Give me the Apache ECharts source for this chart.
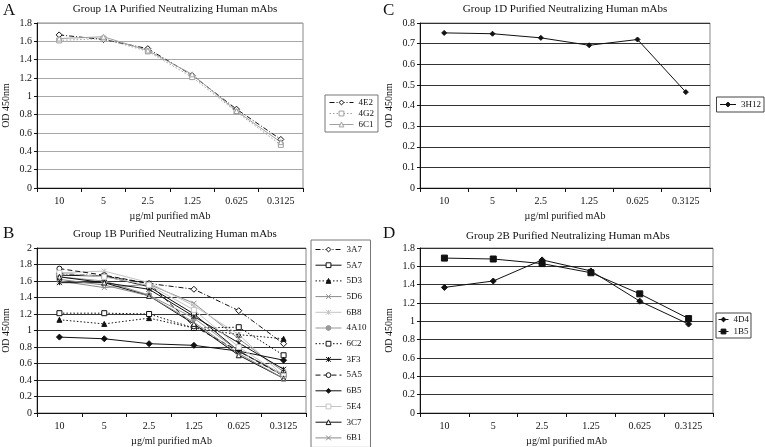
<!DOCTYPE html>
<html>
<head>
<meta charset="utf-8">
<script src="https://cdn.jsdelivr.net/npm/echarts@6/dist/echarts.min.js"></script>
<style>
  html, body { margin: 0; padding: 0; background: #fff; }
  #chart { width: 765px; height: 447px; }
</style>
</head>
<body>
<div id="chart"></div>
<script>
// dilutions (ug/ml), same for every panel
var doses = ['10', '5', '2.5', '1.25', '0.625', '0.3125'];

// Panel A: Group 1A
var a4E2 = [1.67, 1.62, 1.52, 1.23, 0.86, 0.53];
var a4G2 = [1.61, 1.63, 1.49, 1.21, 0.83, 0.47];
var a6C1 = [1.63, 1.65, 1.50, 1.24, 0.84, 0.50];

// Panel B: Group 1B
var b3A7 = [1.69, 1.66, 1.57, 1.50, 1.24, 0.84];
var b5A7 = [1.67, 1.66, 1.53, 1.20, 0.75, 0.46];
var b5D3 = [1.13, 1.08, 1.15, 1.03, 0.95, 0.90];
var b5D6 = [1.60, 1.52, 1.56, 1.33, 0.90, 0.50];
var b6B8 = [1.70, 1.72, 1.58, 1.30, 0.95, 0.45];
var b4A10 = [1.65, 1.60, 1.43, 1.15, 0.75, 0.45];
var b6C2 = [1.21, 1.21, 1.20, 1.03, 1.04, 0.70];
var b3F3 = [1.58, 1.58, 1.50, 1.17, 0.85, 0.53];
var b5A5 = [1.75, 1.67, 1.57, 1.05, 0.75, 0.45];
var b6B5 = [0.92, 0.90, 0.84, 0.82, 0.75, 0.64];
var b5E4 = [1.70, 1.65, 1.55, 1.25, 0.80, 0.45];
var b3C7 = [1.65, 1.58, 1.42, 1.08, 0.70, 0.42];
var b6B1 = [1.62, 1.55, 1.42, 1.10, 0.72, 0.42];

// Panel C: Group 1D
var c3H12 = [0.752, 0.748, 0.728, 0.692, 0.72, 0.465];

// Panel D: Group 2B
var d4D4 = [1.37, 1.44, 1.67, 1.55, 1.22, 0.97];
var d1B5 = [1.69, 1.68, 1.63, 1.53, 1.30, 1.03];

var titles = [
  'Group 1A Purified Neutralizing Human mAbs',
  'Group 1B Purified Neutralizing Human mAbs',
  'Group 1D Purified Neutralizing Human mAbs',
  'Group 2B Purified Neutralizing Human mAbs'
];
var letters = ['A', 'B', 'C', 'D'];
var yMax = [1.8, 2, 0.8, 1.8];
var yStep = [0.2, 0.2, 0.1, 0.2];

var font = '"Liberation Serif", "DejaVu Serif", serif';
var black = '#111';
var gray = '#8a8a8a';
var light = '#c4c4c4';

var crossPath = 'path://M0,0L10,10M10,0L0,10';
var starPath = 'path://M0,0L10,10M10,0L0,10M5,0L5,10';

var grids = [
  { left: 33, top: 23, width: 270, height: 165 },
  { left: 33, top: 248, width: 273, height: 165 },
  { left: 420, top: 23, width: 290, height: 165 },
  { left: 420, top: 248, width: 293, height: 165 }
];
var gridLineColor = ['#a8a8a8', '#333', '#333', '#333'];

function line(name, data, gi, color, type, symbol, fill, size) {
  var strokeOnly = symbol === crossPath || symbol === starPath;
  return {
    name: name,
    type: 'line',
    xAxisIndex: gi,
    yAxisIndex: gi,
    data: data,
    symbol: symbol,
    symbolSize: size || 5,
    showSymbol: true,
    lineStyle: { color: color, width: 1, type: type },
    itemStyle: {
      color: strokeOnly ? 'rgba(0,0,0,0)' : (fill ? color : '#fff'),
      borderColor: color,
      borderWidth: 1
    },
    emphasis: { disabled: true }
  };
}

var dashDot = [5, 2, 1, 2];
var dotted = [1.5, 2];
var dashed = [5, 3];

var series = [
  line('4E2', a4E2, 0, black, dashDot, 'diamond', false, 6),
  line('4G2', a4G2, 0, '#a0a0a0', dotted, 'rect', false),
  line('6C1', a6C1, 0, '#a0a0a0', 'solid', 'triangle', false),

  line('3A7', b3A7, 1, black, dashDot, 'diamond', false, 6),
  line('5A7', b5A7, 1, black, 'solid', 'rect', false),
  line('5D3', b5D3, 1, black, dotted, 'triangle', true),
  line('5D6', b5D6, 1, gray, 'solid', crossPath, false),
  line('6B8', b6B8, 1, light, 'solid', starPath, false),
  line('4A10', b4A10, 1, '#999', 'solid', 'circle', true),
  line('6C2', b6C2, 1, black, dotted, 'rect', false),
  line('3F3', b3F3, 1, black, 'solid', starPath, false),
  line('5A5', b5A5, 1, black, dashed, 'circle', false),
  line('6B5', b6B5, 1, black, 'solid', 'diamond', true, 6),
  line('5E4', b5E4, 1, light, 'solid', 'rect', false),
  line('3C7', b3C7, 1, black, 'solid', 'triangle', false),
  line('6B1', b6B1, 1, gray, 'solid', crossPath, false),

  line('3H12', c3H12, 2, black, 'solid', 'diamond', true, 5),

  line('4D4', d4D4, 3, black, 'solid', 'diamond', true, 6),
  line('1B5', d1B5, 3, black, 'solid', 'rect', true, 6)
];

var xAxes = grids.map(function (g, i) {
  return {
    type: 'category',
    gridIndex: i,
    data: doses,
    boundaryGap: true,
    name: 'µg/ml purified mAb',
    nameLocation: 'middle',
    nameGap: 23,
    nameTextStyle: { fontFamily: font, fontSize: 10, color: black },
    axisLine: { lineStyle: { color: black, width: 1 } },
    axisTick: { show: true, length: 4, lineStyle: { color: black } },
    axisLabel: { fontFamily: font, fontSize: 10, color: black, margin: 8 },
    splitLine: { show: false }
  };
});

var yAxes = grids.map(function (g, i) {
  return {
    type: 'value',
    gridIndex: i,
    min: 0,
    max: yMax[i],
    interval: yStep[i],
    name: 'OD 450nm',
    nameLocation: 'middle',
    nameRotate: 90,
    nameGap: 26,
    nameTextStyle: { fontFamily: font, fontSize: 10, color: black },
    axisLine: { show: true, lineStyle: { color: black, width: 1 } },
    axisTick: { show: true, length: 3, lineStyle: { color: black } },
    axisLabel: { fontFamily: font, fontSize: 10, color: black, margin: 5 },
    splitLine: { show: true, lineStyle: { color: gridLineColor[i], width: 1 } }
  };
});

var legendBase = {
  orient: 'vertical',
  backgroundColor: '#fff',
  borderWidth: 1,
  borderColor: '#444',
  itemGap: 2,
  itemHeight: 6,
  selectedMode: false,
  lineStyle: { width: 1 },
  itemStyle: { borderWidth: 1 },
  textStyle: { fontFamily: font, fontSize: 9, lineHeight: 9, color: black }
};

function legend(extra) {
  var o = {};
  for (var k in legendBase) o[k] = legendBase[k];
  for (var k2 in extra) o[k2] = extra[k2];
  return o;
}

var legends = [
  legend({ data: ['4E2', '4G2', '6C1'], left: 325, top: 95, itemWidth: 24, itemGap: 2, padding: [3, 4, 3, 4], borderColor: '#777' }),
  legend({ data: ['3A7', '5A7', '5D3', '5D6', '6B8', '4A10', '6C2', '3F3', '5A5', '6B5', '5E4', '3C7', '6B1'],
           left: 311, top: 240, height: 200, itemWidth: 26, itemGap: 6.7, padding: [5, 4, 5, 4], borderColor: '#777' }),
  legend({ data: ['3H12'], right: 1, top: 97, itemWidth: 16, padding: [3, 3, 3, 3] }),
  legend({ data: ['4D4', '1B5'], left: 716, top: 313, itemWidth: 10, itemGap: 3, padding: [2, 2, 2, 2] })
];

var titleItems = [];
var titleX = [175, 175, 565, 568];
var titleY = [4, 229, 4, 231];
var letterY = [2, 225, 2, 225];
var letterX = [3, 3, 383, 383];
for (var i = 0; i < 4; i++) {
  titleItems.push({
    text: titles[i],
    left: titleX[i],
    top: titleY[i],
    textAlign: 'center',
    padding: 0,
    textStyle: { fontFamily: font, fontSize: 11, fontWeight: 'normal', color: black }
  });
  titleItems.push({
    text: letters[i],
    left: letterX[i],
    top: letterY[i],
    padding: 0,
    textStyle: { fontFamily: font, fontSize: 17, fontWeight: 'normal', color: black }
  });
}

var chart = echarts.init(document.getElementById('chart'), null, { renderer: 'canvas' });
chart.setOption({
  animation: false,
  backgroundColor: '#fff',
  title: titleItems,
  legend: legends,
  grid: grids.map(function (g) {
    return { left: g.left, top: g.top, width: g.width, height: g.height, show: true,
             borderColor: '#888', borderWidth: 1, backgroundColor: 'transparent' };
  }),
  xAxis: xAxes,
  yAxis: yAxes,
  series: series
});
</script>
</body>
</html>
